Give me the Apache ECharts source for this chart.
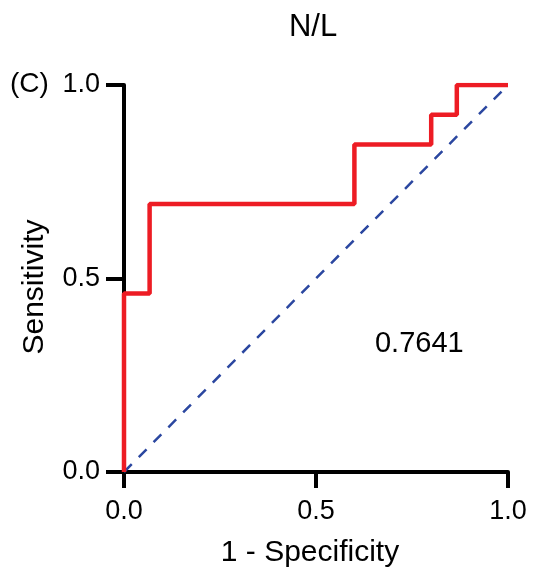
<!DOCTYPE html>
<html>
<head>
<meta charset="utf-8">
<script src="https://cdn.jsdelivr.net/npm/echarts@6/dist/echarts.min.js"></script>
<style>
  html, body { margin: 0; padding: 0; background: #fff; }
  #roc { width: 534px; height: 576px; }
</style>
</head>
<body>
<div id="roc"></div>
<script>
// ROC 阶梯点 (1 - specificity, sensitivity)
const fpr = [0, 0, 0.0667, 0.0667, 0.6, 0.6, 0.8, 0.8, 0.8667, 0.8667, 1]
const tpr = [0, 0.4615, 0.4615, 0.6923, 0.6923, 0.8462, 0.8462, 0.9231, 0.9231, 1, 1]
const refLine = [[0, 0], [1, 1]]
const xTicks = [0, 0.5, 1]
const yTicks = [0, 0.5, 1]
const aucText = '0.7641'
const aucPos = [0.769, 0.33]

const font = 'Liberation Sans, Arial, sans-serif'
const red = '#ed1c24'
const blue = '#2b47a0'
const ink = '#000'

let chart = echarts.init(document.getElementById('roc'))

let option = {
  animation: false,
  backgroundColor: '#fff',
  title: {
    text: 'N/L',
    left: 308,
    top: 7,
    textAlign: 'center',
    textStyle: { fontFamily: font, fontWeight: 'normal', fontSize: 31, color: ink },
  },
  grid: { left: 124, right: 26, top: 85, bottom: 104 },
  xAxis: {
    type: 'value',
    min: 0,
    max: 1,
    interval: 0.5,
    axisLine: { lineStyle: { color: '#000', width: 4 } },
    axisTick: { length: 16, lineStyle: { color: '#000', width: 4 } },
    axisLabel: {
      fontFamily: font, fontSize: 27, color: ink, margin: 26,
      formatter: v => xTicks.includes(v) ? v.toFixed(1) : '',
    },
    splitLine: { show: false },
  },
  yAxis: {
    type: 'value',
    min: 0,
    max: 1,
    interval: 0.5,
    axisLine: { lineStyle: { color: '#000', width: 4 } },
    axisTick: { length: 18, lineStyle: { color: '#000', width: 4 } },
    axisLabel: {
      fontFamily: font, fontSize: 27, color: ink, margin: 24,
      formatter: v => yTicks.includes(v) ? v.toFixed(1) : '',
    },
    splitLine: { show: false },
  },
  graphic: [
    {
      type: 'text',
      x: 10,
      y: 84,
      style: { text: '(C)', font: '28px ' + font, fill: ink, textVerticalAlign: 'middle' },
    },
    {
      type: 'text',
      x: 35,
      y: 287,
      rotation: Math.PI / 2,
      style: {
        text: 'Sensitivity', font: '30px ' + font, fill: ink,
        textAlign: 'center', textVerticalAlign: 'middle',
      },
    },
    {
      type: 'text',
      x: 310,
      y: 553,
      style: {
        text: '1 - Specificity', font: '30px ' + font, fill: ink,
        textAlign: 'center', textVerticalAlign: 'middle',
      },
    },
  ],
  series: [
    {
      type: 'line',
      data: refLine,
      symbol: 'none',
      lineStyle: { color: blue, width: 2.5, type: [11, 10] },
      z: 2,
    },
    {
      type: 'line',
      data: fpr.map((x, i) => [x, tpr[i]]),
      symbol: 'none',
      lineStyle: { color: red, width: 4.5 },
      z: 3,
    },
    {
      type: 'scatter',
      data: [aucPos],
      symbolSize: 0,
      silent: true,
      itemStyle: { opacity: 1 },
      label: {
        show: true,
        position: 'inside',
        formatter: aucText,
        fontFamily: font,
        fontSize: 29,
        color: ink,
        opacity: 1,
      },
    },
  ],
}

chart.setOption(option)
</script>
</body>
</html>
